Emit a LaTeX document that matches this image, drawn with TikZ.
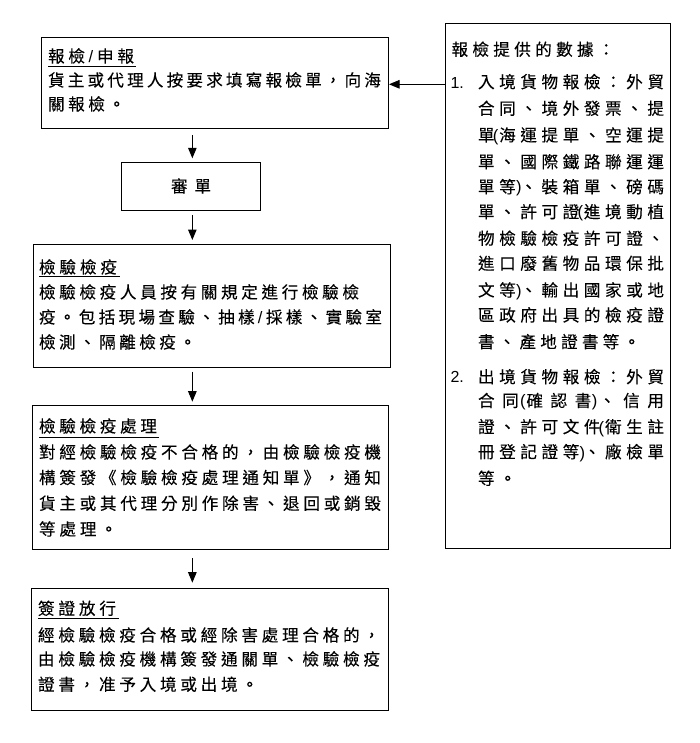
\documentclass[tikz,border=0pt]{standalone}
\usepackage{fontspec}
\setmainfont[FakeBold=0.12]{Noto Sans CJK TC}
\newfontfamily\lat{Liberation Sans}
\usetikzlibrary{arrows.meta}
% justified CJK line: \jl{width}{text}
\def\jlend{JLEND}
\newcommand\jl[2]{\hbox to #1{\jlfirst#2\jlend}}
\def\jlfirst#1{\jlglyph{#1}\jlrest}
\def\jlglyph#1{\ifx#1/{\lat/}\else#1\fi}
\def\jlgap{\hskip 0pt plus 1fill minus 1fill\relax}
\def\jlrest#1{%
  \ifx#1\jlend\let\jlnext\relax
  \else\ifx#1(\let\jlnext\jlopen
  \else\ifx#1)\def\jlnext{\rlap{\kern0.4pt\lat)}\jlrest}%
  \else\def\jlnext{\jlgap\jlglyph{#1}\jlrest}%
  \fi\fi\fi\jlnext}
\def\jlopen#1{\jlgap\llap{\lat(\kern0.8pt}\jlglyph{#1}\jlrest}
\begin{document}
\begin{tikzpicture}[x=1pt,y=-1pt,
  box/.style={draw=black, line width=1pt, inner sep=0pt, outer sep=0pt, anchor=north west},
  txt/.style={inner sep=0pt, outer sep=0pt, anchor=west, text height=14.3pt, text depth=1.7pt,
              font=\fontsize{16.6pt}{16.6pt}\selectfont},
  num/.style={inner sep=0pt, outer sep=0pt, anchor=west, text height=14pt, text depth=1.8pt,
              font=\fontsize{16pt}{16pt}\selectfont\lat},
  arr/.style={line width=1pt, -{Triangle[width=8.5pt,length=10.5pt]}},
  uline/.style={line width=0.9pt}]
\useasboundingbox[fill=white] (0,0) rectangle (699,743);

% boxes
\node[box, minimum width=347pt, minimum height=90.3pt]  (b1) at (41,38) {};
\node[box, minimum width=138.3pt, minimum height=48.4pt] (b2) at (121.7,162.3) {};
\node[box, minimum width=357pt, minimum height=123.3pt] (b3) at (33,244) {};
\node[box, minimum width=356pt, minimum height=143.6pt] (b4) at (32.3,405.7) {};
\node[box, minimum width=356.6pt, minimum height=121.7pt] (b5) at (31.7,588.3) {};
\node[box, minimum width=224.3pt, minimum height=524.3pt] (rb) at (445.7,24) {};

% box 1
\node[txt] (t1) at (48,56) {\jl{86pt}{報檢/申報}};
\node[txt] (t1b) at (48,80) {\jl{333pt}{貨主或代理人按要求填寫報檢單，向海}};
\node[txt] (t1c) at (48,104) {\jl{77pt}{關報檢。}};
\draw[uline] ([yshift=-2.6pt]t1.south west) -- ([yshift=-2.6pt,xshift=1.5pt]t1.south east);

% box 2
\node[txt, anchor=center] (t2) at (191,186) {\jl{40pt}{審單}};

% box 3
\node[txt] (t3) at (39,267) {\jl{78pt}{檢驗檢疫}};
\node[txt] (t3b) at (39,292) {\jl{320pt}{檢驗檢疫人員按有關規定進行檢驗檢}};
\node[txt] (t3c) at (39,317) {\jl{343pt}{疫。包括現場查驗、抽樣/採樣、實驗室}};
\node[txt] (t3d) at (39,342) {\jl{157pt}{檢測、隔離檢疫。}};
\draw[uline] ([yshift=-1.8pt]t3.south west) -- ([yshift=-1.8pt,xshift=3pt]t3.south east);

% box 4
\node[txt] (t4) at (39,426) {\jl{118pt}{檢驗檢疫處理}};
\node[txt] (t4b) at (39,452) {\jl{342pt}{對經檢驗檢疫不合格的，由檢驗檢疫機}};
\node[txt] (t4c) at (39,477.5) {\jl{342pt}{構簽發《檢驗檢疫處理通知單》，通知}};
\node[txt] (t4d) at (39,503.3) {\jl{342pt}{貨主或其代理分別作除害、退回或銷毀}};
\node[txt] (t4e) at (39,529) {\jl{78pt}{等處理。}};
\draw[uline] ([yshift=-3.4pt]t4.south west) -- ([yshift=-3.4pt,xshift=2pt]t4.south east);

% box 5
\node[txt] (t5) at (38,608.3) {\jl{78pt}{簽證放行}};
\node[txt] (t5b) at (38,635) {\jl{342pt}{經檢驗檢疫合格或經除害處理合格的，}};
\node[txt] (t5c) at (38,659) {\jl{342pt}{由檢驗檢疫機構簽發通關單、檢驗檢疫}};
\node[txt] (t5d) at (38,684.3) {\jl{220pt}{證書，准予入境或出境。}};
\draw[uline] ([yshift=-2.1pt]t5.south west) -- ([yshift=-2.1pt,xshift=3pt]t5.south east);

% right box
\node[txt] (hd) at (451.5,49.3) {\jl{163pt}{報檢提供的數據：}};
\node[num] (n1) at (450.5,82) {1.};
\node[txt] (r1) at (478,81.7) {\jl{186pt}{入境貨物報檢：外貿}};
\node[txt] (r2) at (478,108.3) {\jl{186pt}{合同、境外發票、提}};
\node[txt] (r3) at (478,135) {\jl{186pt}{單(海運提單、空運提}};
\node[txt] (r4) at (478,161.7) {\jl{186pt}{單、國際鐵路聯運運}};
\node[txt] (r5) at (478,186.7) {\jl{186pt}{單等)、裝箱單、磅碼}};
\node[txt] (r6) at (478,211.7) {\jl{186pt}{單、許可證(進境動植}};
\node[txt] (r7) at (478,238.3) {\jl{186pt}{物檢驗檢疫許可證、}};
\node[txt] (r8) at (478,263.3) {\jl{186pt}{進口廢舊物品環保批}};
\node[txt] (r9) at (478,290) {\jl{186pt}{文等)、輸出國家或地}};
\node[txt] (r10) at (478,315) {\jl{186pt}{區政府出具的檢疫證}};
\node[txt] (r11) at (478,341.7) {\jl{162pt}{書、產地證書等。}};
\node[num] (n2) at (450.5,376.7) {2.};
\node[txt] (s1) at (478,376.7) {\jl{186pt}{出境貨物報檢：外貿}};
\node[txt] (s2) at (478,400.5) {\jl{186pt}{合同(確認書)、信用}};
\node[txt] (s3) at (478,426.7) {\jl{186pt}{證、許可文件(衛生註}};
\node[txt] (s4) at (478,451.7) {\jl{186pt}{冊登記證等)、廠檢單}};
\node[txt] (s5) at (478,478.3) {\jl{38pt}{等。}};

% connectors
\coordinate (ax) at ([xshift=1.5pt]b2.north);
\draw[arr, shorten <=6.7pt, shorten >=4pt] (ax |- b1.south) -- (ax |- b2.north);
\draw[arr, shorten <=4.3pt, shorten >=4pt] (ax |- b2.south) -- (ax |- b3.north);
\draw[arr, shorten <=4.4pt, shorten >=4pt] (ax |- b3.south) -- (ax |- b4.north);
\draw[arr, shorten <=8.7pt, shorten >=5.6pt] (ax |- b4.south) -- (ax |- b5.north);
\coordinate (hin) at (rb.west |- 0,84.3);
\draw[arr, shorten >=1pt] (hin) -- (hin -| b1.east);
\end{tikzpicture}
\end{document}
